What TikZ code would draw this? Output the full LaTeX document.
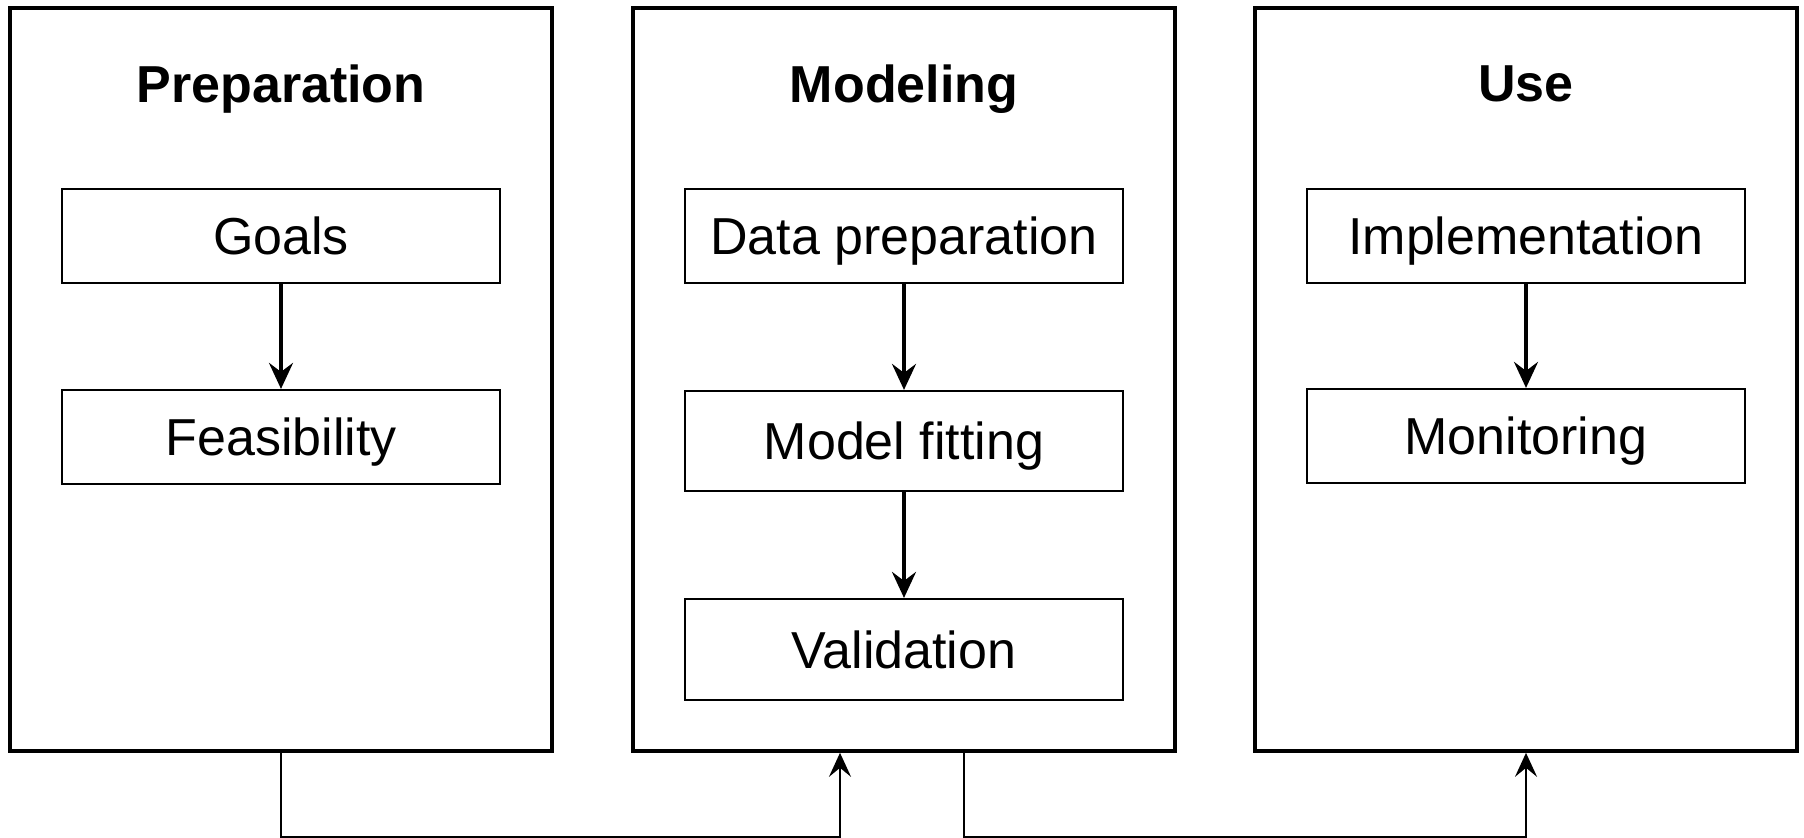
\documentclass[tikz,border=0pt]{standalone}
\usepackage{fontspec}
\setmainfont{Liberation Sans}
\usetikzlibrary{arrows.meta}

\begin{document}
\begin{tikzpicture}[x=0.5pt,y=-0.5pt,
  phase/.style={draw,line width=1.8pt,minimum width=271pt,minimum height=371.5pt,inner sep=0pt},
  title/.style={text depth=0pt,font=\fontsize{26}{31}\selectfont\bfseries},
  task/.style={draw,line width=1.1pt,minimum width=219pt,inner sep=0pt,text depth=0pt,font=\fontsize{26}{31}\selectfont},
  flow/.style={line width=1.8pt,-{Stealth[length=13pt,width=12pt,inset=4.5pt]}},
  link/.style={line width=1.3pt,-{Stealth[length=12pt,width=11pt,inset=4.5pt]}}]
\useasboundingbox (0,0) rectangle (1804,837);

% phases
\node [phase] (prep) at (281,379.5) {};
\node [phase] (model) at (904,379.5) {};
\node [phase] (use) at (1526,379.5) {};
\node [title] (prept) at (281,84) {Preparation};
\node [title] (modelt) at (904,84) {Modeling};
\node [title] (uset) at (1526,84) {Use};

% preparation
\node [task,minimum height=47pt] (goals) at (281,236) {Goals};
\node [task,minimum height=47pt] (feas) at (281,437) {Feasibility};
\draw [flow] (goals.south)--(feas.north);

% modeling
\node [task,minimum height=47pt] (datap) at (904,236) {Data preparation};
\node [task,minimum height=50pt] (fit) at (904,441) {Model fitting};
\node [task,minimum height=50.5pt] (valid) at (904,649.5) {Validation};
\draw [flow] (datap.south)--(fit.north);
\draw [flow] (fit.south)--(valid.north);

% use
\node [task,minimum height=47pt] (impl) at (1526,236) {Implementation};
\node [task,minimum height=47pt] (monit) at (1526,436) {Monitoring};
\draw [flow] (impl.south)--(monit.north);

% between phases
\draw [link] (prep.south)--++(0,84.5)-|([xshift=-32pt]model.south);
\draw [link] ([xshift=30pt]model.south)--++(0,84.5)-|(use.south);
\end{tikzpicture}
\end{document}
